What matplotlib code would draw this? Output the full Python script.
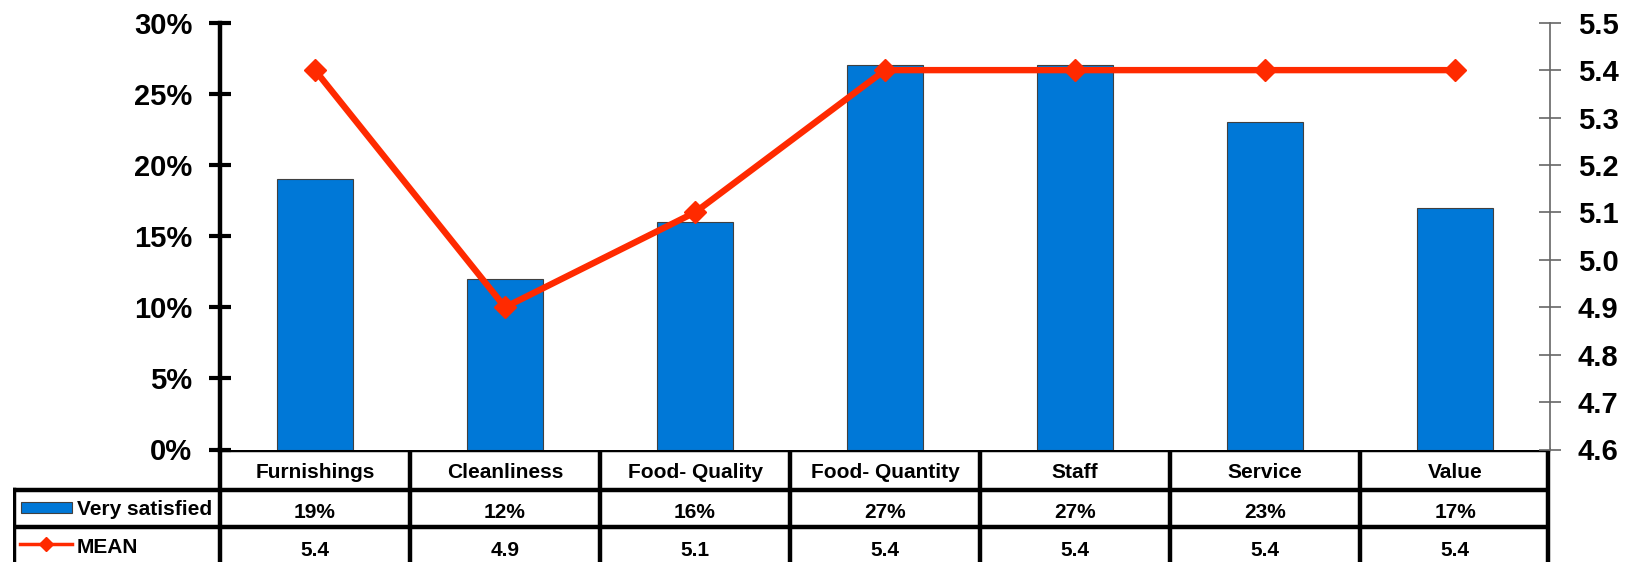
import matplotlib
matplotlib.use("Agg")
import matplotlib.pyplot as plt
from matplotlib.patches import Rectangle
from matplotlib.lines import Line2D

categories = ["Furnishings", "Cleanliness", "Food- Quality", "Food- Quantity",
              "Staff", "Service", "Value"]
very_satisfied = [19, 12, 16, 27, 27, 23, 17]
mean_scores = [5.4, 4.9, 5.1, 5.4, 5.4, 5.4, 5.4]
pct_ticks = [0, 5, 10, 15, 20, 25, 30]
mean_ticks = [4.6, 4.7, 4.8, 4.9, 5.0, 5.1, 5.2, 5.3, 5.4, 5.5]

BLUE = "#0078D7"
RED = "#FF2A00"
W, H = 1625, 562
plt.rcParams["font.family"] = ["Liberation Sans", "DejaVu Sans"]
plt.rcParams["font.weight"] = "bold"

fig = plt.figure(figsize=(W / 100, H / 100), dpi=100)

# plot area in pixels
x0, x1 = 220, 1550
ytop, ybot = 22.7, 449.5
ax = fig.add_axes([x0 / W, 1 - ybot / H, (x1 - x0) / W, (ybot - ytop) / H])
n = len(categories)
xs = list(range(n))
ax.bar(xs, very_satisfied, width=0.4, color=BLUE, edgecolor="#404040",
       linewidth=0.8, zorder=2)
ax.set_xlim(-0.5, n - 0.5)
ax.set_ylim(0, 30)
ax.set_yticks(pct_ticks)
ax.set_yticklabels([f"{t}%" for t in pct_ticks], fontsize=21, fontweight="bold")
ax.set_xticks([])
for s in ["top", "right", "bottom"]:
    ax.spines[s].set_visible(False)
ax.spines["left"].set_linewidth(3.2)
ax.tick_params(axis="y", direction="inout", length=16, width=3, pad=12)

ax2 = ax.twinx()
ax2.plot(xs, mean_scores, color=RED, linewidth=4.6, marker="D", markersize=11,
         zorder=3)
ax2.set_ylim(4.6, 5.5)
ax2.set_yticks(mean_ticks)
ax2.set_yticklabels([f"{t:.1f}" for t in mean_ticks], fontsize=21,
                    fontweight="bold")
for s in ["top", "left", "bottom"]:
    ax2.spines[s].set_visible(False)
ax2.spines["right"].set_color("#666666")
ax2.spines["right"].set_linewidth(1.2)
ax2.tick_params(axis="y", direction="inout", length=16, width=1.2,
                color="#666666", pad=12)
ax.set_zorder(1)
ax2.set_zorder(2)
ax2.patch.set_visible(False)

# data table under the plot, columns aligned with the categories
tx0 = 13
col_w = (x1 - x0) / n
left_edge = -0.5 - (x0 - tx0) / col_w
tab = fig.add_axes([tx0 / W, 0, (x1 - tx0) / W, (H - ybot) / H])
tab.set_xlim(left_edge, n - 0.5)
tab.set_ylim(H - ybot, 0)
tab.axis("off")


def py(y):
    # figure pixel row -> table axes coordinate
    return y - ybot


r0, r1, r2, r3 = 0, py(490), py(527), py(H + 5)
lw = 3.2
right = n - 0.5 - 0.01
lx = left_edge + 0.005
tab.add_line(Line2D([-0.5, right], [r0, r0], color="black", lw=lw, clip_on=False))
tab.add_line(Line2D([lx, right], [r1, r1], color="black", lw=lw))
tab.add_line(Line2D([lx, right], [r2, r2], color="black", lw=lw))
tab.add_line(Line2D([lx, lx], [r1, r3], color="black", lw=lw))
for i in range(n + 1):
    xb = min(i - 0.5, right)
    tab.add_line(Line2D([xb, xb], [r0, r3], color="black", lw=lw, clip_on=False))

fs = 15
for i, c in enumerate(categories):
    tab.text(i, py(478), c, ha="center", va="baseline", fontsize=fs,
             fontweight="bold")
    tab.text(i, py(518), f"{very_satisfied[i]}%", ha="center",
             va="baseline", fontsize=fs, fontweight="bold")
    tab.text(i, py(556), f"{mean_scores[i]:.1f}",
             ha="center", va="baseline", fontsize=fs, fontweight="bold")

# legend keys inside the first column
px = 1 / col_w
tab.add_patch(Rectangle((left_edge + 8 * px, py(502)), 51 * px, 11,
                        facecolor=BLUE, edgecolor="#404040", lw=0.8))
tab.text(left_edge + 64 * px, py(515), "Very satisfied", ha="left",
         va="baseline", fontsize=fs, fontweight="bold")
tab.add_line(Line2D([left_edge + 7 * px, left_edge + 59 * px],
                    [py(544), py(544)], color=RED, lw=2.5))
tab.add_line(Line2D([left_edge + 33 * px], [py(544)], color=RED,
                    marker="D", markersize=7, lw=0))
tab.text(left_edge + 64 * px, py(553), "MEAN", ha="left", va="baseline",
         fontsize=fs, fontweight="bold")

fig.savefig("out.png", dpi=100)
